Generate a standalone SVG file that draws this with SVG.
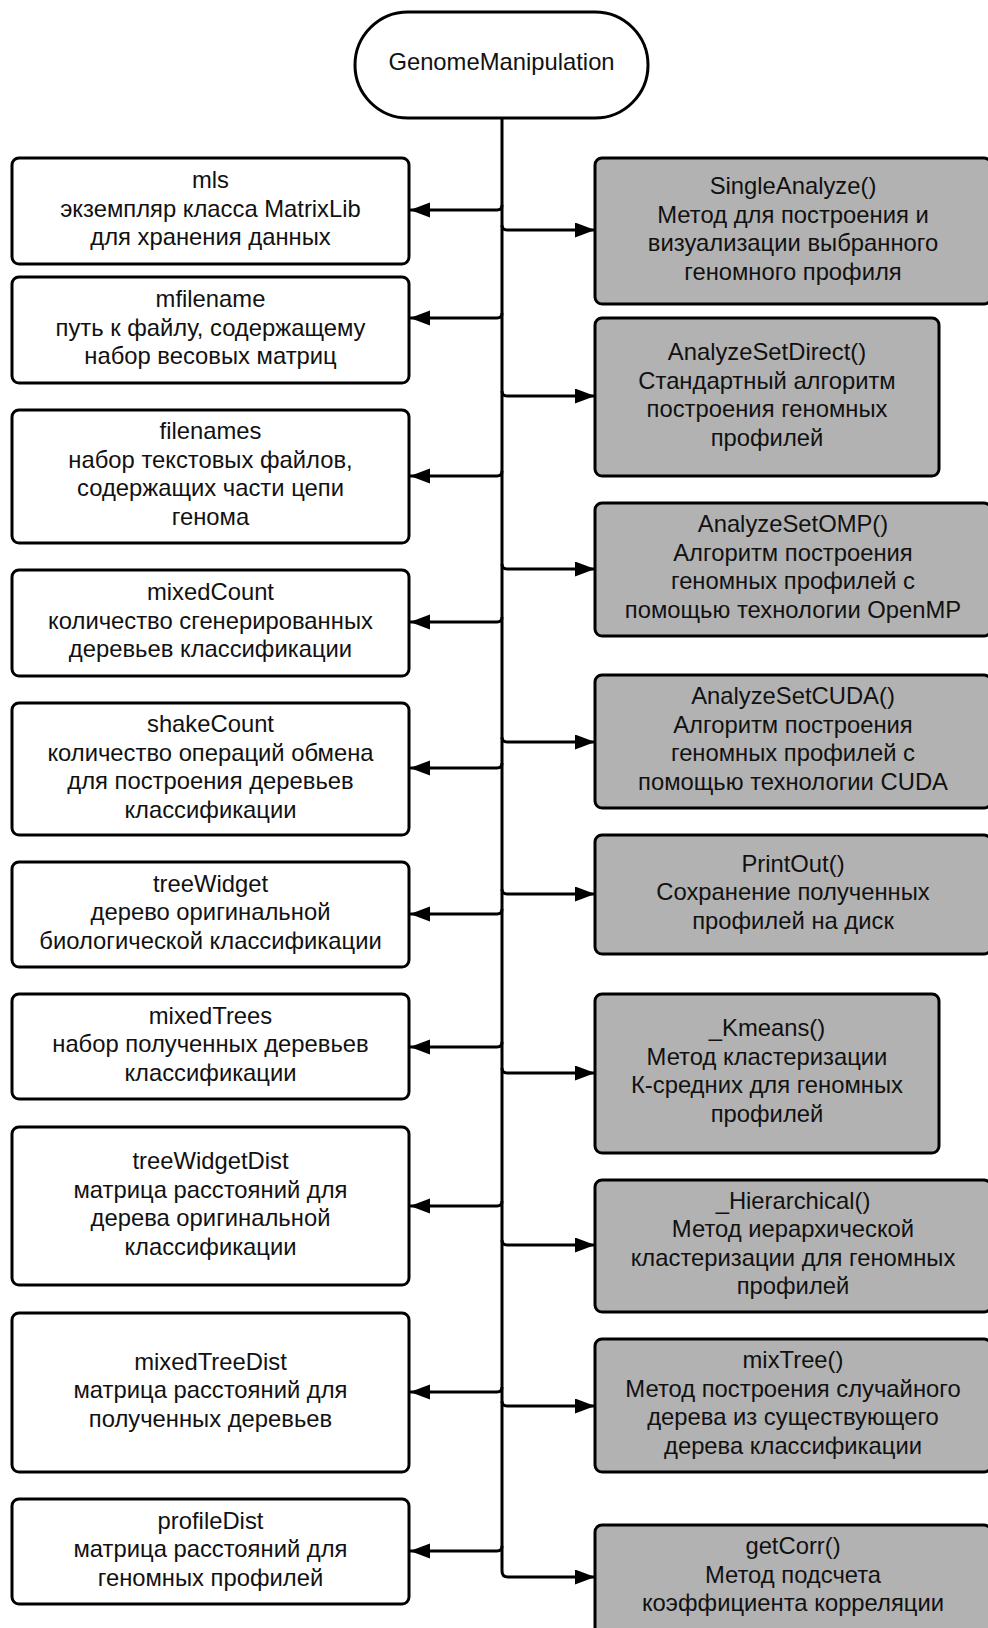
<svg xmlns="http://www.w3.org/2000/svg" width="988" height="1628" viewBox="0 0 988 1628">
  <style>
    .box { stroke: #000; stroke-width: 3; }
    .field { fill: #ffffff; }
    .method { fill: #b2b2b2; }
    .lbl { font-family: "Liberation Sans", Arial, sans-serif; font-size: 23.8px; fill: #111; text-anchor: middle; }
    .wire { fill: none; stroke: #000; stroke-width: 3; }
    .arrow { marker-end: url(#head); }
  </style>
  <defs>
    <marker id="head" markerUnits="userSpaceOnUse" markerWidth="21" markerHeight="16" refX="20" refY="7.5" orient="auto">
      <path d="M0,0 L20,7.5 L0,15 z" fill="#000"/>
    </marker>
  </defs>
  <rect width="988" height="1628" fill="#fff"/>

  <!-- root class -->
  <g id="genome-manipulation">
    <rect class="box field" x="355" y="12" width="293" height="106" rx="53" ry="53"/>
    <text class="lbl" x="501.5" y="70">GenomeManipulation</text>
  </g>

  <!-- connectors: trunk and branches -->
  <g id="connectors">
    <path class="wire arrow" d="M502,118 V1571 Q502,1577 508,1577 H595"/>
    <!-- left: fields -->
    <path class="wire arrow" d="M502,205 Q502,210 497,210 H410"/>
    <path class="wire arrow" d="M502,313 Q502,318 497,318 H410"/>
    <path class="wire arrow" d="M502,471 Q502,476 497,476 H410"/>
    <path class="wire arrow" d="M502,617 Q502,622 497,622 H410"/>
    <path class="wire arrow" d="M502,763 Q502,768 497,768 H410"/>
    <path class="wire arrow" d="M502,909 Q502,914 497,914 H410"/>
    <path class="wire arrow" d="M502,1042 Q502,1047 497,1047 H410"/>
    <path class="wire arrow" d="M502,1201 Q502,1206 497,1206 H410"/>
    <path class="wire arrow" d="M502,1387 Q502,1392 497,1392 H410"/>
    <path class="wire arrow" d="M502,1546 Q502,1551 497,1551 H410"/>
    <!-- right: methods -->
    <path class="wire arrow" d="M502,225 Q502,230 507,230 H595"/>
    <path class="wire arrow" d="M502,391 Q502,396 507,396 H595"/>
    <path class="wire arrow" d="M502,564 Q502,569 507,569 H595"/>
    <path class="wire arrow" d="M502,737 Q502,742 507,742 H595"/>
    <path class="wire arrow" d="M502,889 Q502,894 507,894 H595"/>
    <path class="wire arrow" d="M502,1068 Q502,1073 507,1073 H595"/>
    <path class="wire arrow" d="M502,1240 Q502,1245 507,1245 H595"/>
    <path class="wire arrow" d="M502,1401 Q502,1406 507,1406 H595"/>
  </g>

  <!-- fields (left column) -->
  <g id="mls">
    <rect class="box field" x="12" y="158" width="397" height="106" rx="7"/>
    <text class="lbl" y="188"><tspan x="210.5">mls</tspan><tspan x="210.5" dy="28.5">экземпляр класса MatrixLib</tspan><tspan x="210.5" dy="28.5">для хранения данных</tspan></text>
  </g>
  <g id="mfilename">
    <rect class="box field" x="12" y="277" width="397" height="106" rx="7"/>
    <text class="lbl" y="307"><tspan x="210.5">mfilename</tspan><tspan x="210.5" dy="28.5">путь к файлу, содержащему</tspan><tspan x="210.5" dy="28.5">набор весовых матриц</tspan></text>
  </g>
  <g id="filenames">
    <rect class="box field" x="12" y="410" width="397" height="133" rx="7"/>
    <text class="lbl" y="439"><tspan x="210.5">filenames</tspan><tspan x="210.5" dy="28.5">набор текстовых файлов,</tspan><tspan x="210.5" dy="28.5">содержащих части цепи</tspan><tspan x="210.5" dy="28.5">генома</tspan></text>
  </g>
  <g id="mixedCount">
    <rect class="box field" x="12" y="570" width="397" height="106" rx="7"/>
    <text class="lbl" y="600"><tspan x="210.5">mixedCount</tspan><tspan x="210.5" dy="28.5">количество сгенерированных</tspan><tspan x="210.5" dy="28.5">деревьев классификации</tspan></text>
  </g>
  <g id="shakeCount">
    <rect class="box field" x="12" y="703" width="397" height="132" rx="7"/>
    <text class="lbl" y="732"><tspan x="210.5">shakeCount</tspan><tspan x="210.5" dy="28.5">количество операций обмена</tspan><tspan x="210.5" dy="28.5">для построения деревьев</tspan><tspan x="210.5" dy="28.5">классификации</tspan></text>
  </g>
  <g id="treeWidget">
    <rect class="box field" x="12" y="862" width="397" height="105" rx="7"/>
    <text class="lbl" y="891.5"><tspan x="210.5">treeWidget</tspan><tspan x="210.5" dy="28.5">дерево оригинальной</tspan><tspan x="210.5" dy="28.5">биологической классификации</tspan></text>
  </g>
  <g id="mixedTrees">
    <rect class="box field" x="12" y="994" width="397" height="105" rx="7"/>
    <text class="lbl" y="1023.5"><tspan x="210.5">mixedTrees</tspan><tspan x="210.5" dy="28.5">набор полученных деревьев</tspan><tspan x="210.5" dy="28.5">классификации</tspan></text>
  </g>
  <g id="treeWidgetDist">
    <rect class="box field" x="12" y="1127" width="397" height="158" rx="7"/>
    <text class="lbl" y="1169"><tspan x="210.5">treeWidgetDist</tspan><tspan x="210.5" dy="28.5">матрица расстояний для</tspan><tspan x="210.5" dy="28.5">дерева оригинальной</tspan><tspan x="210.5" dy="28.5">классификации</tspan></text>
  </g>
  <g id="mixedTreeDist">
    <rect class="box field" x="12" y="1313" width="397" height="159" rx="7"/>
    <text class="lbl" y="1369.5"><tspan x="210.5">mixedTreeDist</tspan><tspan x="210.5" dy="28.5">матрица расстояний для</tspan><tspan x="210.5" dy="28.5">полученных деревьев</tspan></text>
  </g>
  <g id="profileDist">
    <rect class="box field" x="12" y="1499" width="397" height="105" rx="7"/>
    <text class="lbl" y="1528.5"><tspan x="210.5">profileDist</tspan><tspan x="210.5" dy="28.5">матрица расстояний для</tspan><tspan x="210.5" dy="28.5">геномных профилей</tspan></text>
  </g>

  <!-- methods (right column) -->
  <g id="SingleAnalyze">
    <rect class="box method" x="595" y="158" width="396" height="146" rx="7"/>
    <text class="lbl" y="194"><tspan x="793">SingleAnalyze()</tspan><tspan x="793" dy="28.5">Метод для построения и</tspan><tspan x="793" dy="28.5">визуализации выбранного</tspan><tspan x="793" dy="28.5">геномного профиля</tspan></text>
  </g>
  <g id="AnalyzeSetDirect">
    <rect class="box method" x="595" y="318" width="344" height="158" rx="7"/>
    <text class="lbl" y="360"><tspan x="767">AnalyzeSetDirect()</tspan><tspan x="767" dy="28.5">Стандартный алгоритм</tspan><tspan x="767" dy="28.5">построения геномных</tspan><tspan x="767" dy="28.5">профилей</tspan></text>
  </g>
  <g id="AnalyzeSetOMP">
    <rect class="box method" x="595" y="503" width="396" height="133" rx="7"/>
    <text class="lbl" y="532"><tspan x="793">AnalyzeSetOMP()</tspan><tspan x="793" dy="28.5">Алгоритм построения</tspan><tspan x="793" dy="28.5">геномных профилей с</tspan><tspan x="793" dy="28.5">помощью технологии OpenMP</tspan></text>
  </g>
  <g id="AnalyzeSetCUDA">
    <rect class="box method" x="595" y="675" width="396" height="133" rx="7"/>
    <text class="lbl" y="704"><tspan x="793">AnalyzeSetCUDA()</tspan><tspan x="793" dy="28.5">Алгоритм построения</tspan><tspan x="793" dy="28.5">геномных профилей с</tspan><tspan x="793" dy="28.5">помощью технологии CUDA</tspan></text>
  </g>
  <g id="PrintOut">
    <rect class="box method" x="595" y="835" width="396" height="119" rx="7"/>
    <text class="lbl" y="871.5"><tspan x="793">PrintOut()</tspan><tspan x="793" dy="28.5">Сохранение полученных</tspan><tspan x="793" dy="28.5">профилей на диск</tspan></text>
  </g>
  <g id="Kmeans">
    <rect class="box method" x="595" y="994" width="344" height="159" rx="7"/>
    <text class="lbl" y="1036"><tspan x="767">_Kmeans()</tspan><tspan x="767" dy="28.5">Метод кластеризации</tspan><tspan x="767" dy="28.5">К-средних для геномных</tspan><tspan x="767" dy="28.5">профилей</tspan></text>
  </g>
  <g id="Hierarchical">
    <rect class="box method" x="595" y="1180" width="396" height="132" rx="7"/>
    <text class="lbl" y="1208.5"><tspan x="793">_Hierarchical()</tspan><tspan x="793" dy="28.5">Метод иерархической</tspan><tspan x="793" dy="28.5">кластеризации для геномных</tspan><tspan x="793" dy="28.5">профилей</tspan></text>
  </g>
  <g id="mixTree">
    <rect class="box method" x="595" y="1339" width="396" height="133" rx="7"/>
    <text class="lbl" y="1368"><tspan x="793">mixTree()</tspan><tspan x="793" dy="28.5">Метод построения случайного</tspan><tspan x="793" dy="28.5">дерева из существующего</tspan><tspan x="793" dy="28.5">дерева классификации</tspan></text>
  </g>
  <g id="getCorr">
    <rect class="box method" x="595" y="1525" width="396" height="110" rx="7"/>
    <text class="lbl" y="1554"><tspan x="793">getCorr()</tspan><tspan x="793" dy="28.5">Метод подсчета</tspan><tspan x="793" dy="28.5">коэффициента корреляции</tspan></text>
  </g>
</svg>
